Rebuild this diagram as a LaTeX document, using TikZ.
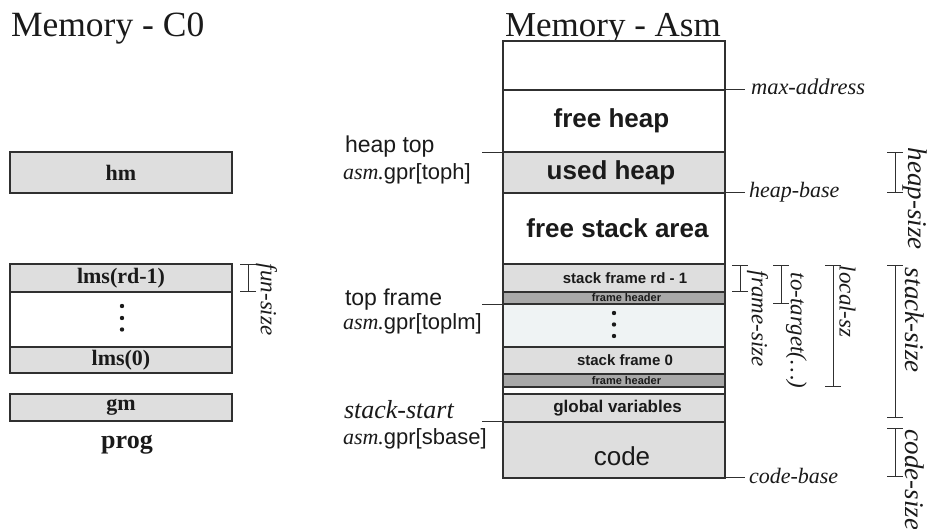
\documentclass[tikz,border=0pt]{standalone}
\usepackage{fontspec}
\setmainfont{Liberation Serif}
\setsansfont{Liberation Sans}
\usetikzlibrary{arrows.meta}

\definecolor{cellgray}{HTML}{DEDEDE}
\definecolor{headgray}{HTML}{A8A8A8}
\definecolor{dotfill}{HTML}{EFF3F4}
\definecolor{edge}{HTML}{303030}
\definecolor{ink}{HTML}{1A1A1A}

\newcommand{\fs}[1]{\fontsize{#1}{#1}\selectfont}

\tikzset{
  every node/.style={inner sep=0pt, outer sep=0pt, text=ink},
  cell/.style={draw=edge, line width=1.2pt, fill=#1, minimum width=222pt, anchor=center},
  cell/.default=cellgray,
  cboxtext/.style={font=\fs{22}\bfseries},
  heavy/.style={font=\sffamily\bfseries\fs{26}},
  mid/.style={font=\sffamily\bfseries\fs{15}},
  tiny/.style={font=\sffamily\bfseries\fs{11}},
  leftlbl/.style={anchor=base west, font=\fs{23}},
  rightlbl/.style={anchor=base west, font=\itshape\fs{22}},
  tickline/.style={draw=edge, line width=1pt},
  brk/.style={draw=edge, line width=1pt, {Bar[width=16pt]}-{Bar[width=16pt]}},
  rot/.style={rotate=-90, anchor=west, font=\itshape\fs{#1}},
  dotmark/.style={circle, fill=ink, minimum size=4.4pt}
}

\begin{document}
\begin{tikzpicture}[x=1pt, y=-1pt]
\useasboundingbox (0,0) rectangle (930,529);

% ---------- titles ----------
\node[anchor=base west, font=\fs{35.5}] (titleC) at (11,37) {Memory - C0};
\node[anchor=base west, font=\fs{35}] (titleA) at (505,37) {Memory - Asm};

% ---------- C0 memory ----------
\node[cell, minimum height=41pt, cboxtext] (hm) at (121,172.5) {hm};
\node[cell, minimum height=55pt, fill=white] (lmsdots) at (121,319.5) {};
\node[cell, minimum height=28pt, cboxtext] (lmstop) at (121,278) {lms(rd-1)};
\node[cell, minimum height=26pt, cboxtext] (lms0) at (121,360) {lms(0)};
\node[cell, minimum height=27pt, cboxtext] (gm) at (121,407.5) {gm};
\node[anchor=base, font=\fs{26}\bfseries] (prog) at (127,449) {prog};
\node[dotmark] (ld1) at (122,306) {};
\node[dotmark] (ld2) at (122,318) {};
\node[dotmark] (ld3) at (122,329.5) {};

% fun-size bracket
\coordinate (fsTop) at (248,264);
\coordinate (fsBot) at (248,292);
\draw[brk] (fsTop) -- (fsBot);
\node[rot=23] (funsize) at (266.5,264) {fun-size};

% ---------- assembly memory: cells ----------
\node[cell=white, minimum height=49pt] (topfree) at (614,65.5) {};
\node[cell=white, minimum height=62pt] (freeheap) at (614,121) {};
\node[cell, minimum height=41pt] (usedheap) at (614,172.5) {};
\node[cell=white, minimum height=71pt] (freestack) at (614,228.5) {};
\node[cell, minimum height=28pt] (frametop) at (614,278) {};
\node[cell=headgray, minimum height=12pt] (headtop) at (614,298) {};
\node[cell=dotfill, minimum height=43pt] (framedots) at (614,325.5) {};
\node[cell, minimum height=27pt] (frame0) at (614,360.5) {};
\node[cell=headgray, minimum height=13pt] (head0) at (614,380.5) {};
\node[cell=white, minimum height=7pt] (gap) at (614,390.5) {};
\node[cell, minimum height=28pt] (globals) at (614,408) {};
\node[cell, minimum height=56pt] (code) at (614,450) {};

% ---------- assembly memory: cell texts ----------
\node[heavy] (tFreeHeap) at ([xshift=-2.5pt]freeheap.center) {free heap};
\node[heavy] (tUsedHeap) at ([xshift=-3pt]usedheap.center) {used heap};
\node[heavy] (tFreeStack) at ([xshift=3.5pt]freestack.center) {free stack area};
\node[mid] (tFrameTop) at ([xshift=11pt]frametop.center) {stack frame rd - 1};
\node[tiny] (tHeadTop) at ([xshift=12.5pt]headtop.center) {frame header};
\node[mid] (tFrame0) at ([xshift=11pt]frame0.center) {stack frame 0};
\node[tiny] (tHead0) at ([xshift=12.5pt]head0.center) {frame header};
\node[font=\sffamily\bfseries\fs{17}] (tGlobals) at ([xshift=3.5pt]globals.center) {global variables};
\node[font=\sffamily\fs{26}] (tCode) at ([xshift=8pt,yshift=-6pt]code.center) {code};
\node[dotmark] (ad1) at (614,313) {};
\node[dotmark] (ad2) at (614,324.5) {};
\node[dotmark] (ad3) at (614,336) {};

% ---------- pointer labels on the left ----------
\node[leftlbl, font=\sffamily\fs{23}] (heaptop) at (345,153) {heap top};
\node[leftlbl, font=\fs{22}] (toph) at (343,180) {\textit{asm.}\sffamily gpr[toph]};
\node[leftlbl, font=\sffamily\fs{23}] (topframe) at (345,306) {top frame};
\node[leftlbl, font=\fs{22}] (toplm) at (343,330) {\textit{asm.}\sffamily gpr[toplm]};
\node[leftlbl, font=\itshape\fs{26}] (stackstart) at (344,419) {stack-start};
\node[leftlbl, font=\fs{22}] (sbase) at (343,445) {\textit{asm.}\sffamily gpr[sbase]};

\coordinate (pHeap) at (482,153);
\coordinate (pFrame) at (482,305);
\coordinate (pStack) at (482,422);
\draw[tickline] (pHeap) -- (pHeap -| usedheap.west);
\draw[tickline] (pFrame) -- (pFrame -| headtop.west);
\draw[tickline] (pStack) -- (pStack -| code.west);

% ---------- address labels on the right ----------
\coordinate (qMax) at (745,89.5);
\coordinate (qHeap) at (745,193);
\coordinate (qCode) at (745,477.5);
\draw[tickline] (qMax -| freeheap.east) -- (qMax);
\draw[tickline] (qHeap -| usedheap.east) -- (qHeap);
\draw[tickline] (qCode -| code.east) -- (qCode);
\node[rightlbl, font=\itshape\fs{22.5}] (maxaddr) at (751,94.5) {max-address};
\node[rightlbl] (heapbase) at (749,198) {heap-base};
\node[rightlbl] (codebase) at (749,483) {code-base};

% ---------- size brackets ----------
\draw[brk] (740,265) -- (740,292);
\node[rot=23] (framesize) at (757.5,271) {frame-size};
\draw[brk] (781,265) -- (781,304);
\node[rot=23] (totarget) at (796.5,273) {to-target(…)};
\draw[brk] (833,265) -- (833,387);
\node[rot=23] (localsz) at (847.5,266) {local-sz};

\draw[brk] (895,152) -- (895,193);
\node[rot=27] (heapsize) at (915,148) {heap-size};
\draw[brk] (895,265) -- (895,418);
\node[rot=27] (stacksize) at (915,268) {stack-size};
\draw[brk] (895,428) -- (895,477);
\node[rot=27] (codesize) at (915,430) {code-size};
\end{tikzpicture}
\end{document}
